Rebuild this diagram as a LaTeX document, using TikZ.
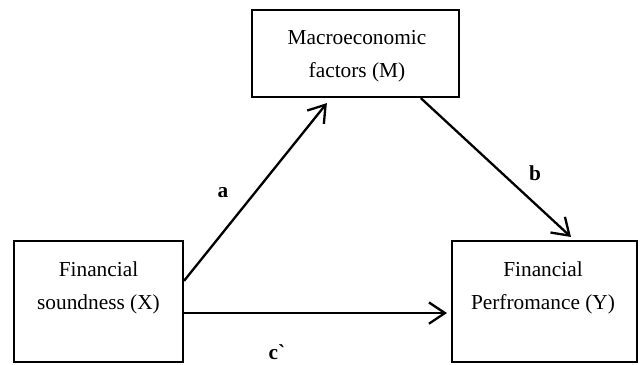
\documentclass[tikz,border=0pt]{standalone}
\usepackage{fontspec}
\setmainfont{Liberation Serif}[Ligatures=TeXOff]
\usetikzlibrary{arrows.meta, positioning}
\tikzstyle{var_box} = [rectangle, draw=black, line width=1.2pt, minimum height=68pt, inner sep=0pt]
\tikzstyle{var_text} = [align=center, inner sep=0pt, font=\fontsize{12}{18.6}\selectfont]
\tikzstyle{path_arrow} = [line width=1.3pt, -{Straight Barb[length=9pt, width=12pt]}]
\tikzstyle{path_label} = [font=\fontsize{12}{14}\selectfont\bfseries, inner sep=0pt]

\begin{document}
\begin{tikzpicture}[x=0.5625pt, y=-0.5625pt]
\useasboundingbox (0,0) rectangle (641,364);
\node (xbox) [var_box, minimum width=95pt] at (98.5,301.5) {};
\node (ybox) [var_box, minimum width=104pt] at (544.5,301.5) {};
\node (mbox) [var_box, minimum width=116.5pt, minimum height=49pt] at (355.5,53.5) {};

% Beschriftung der Variablen, etwas oberhalb der Mitte
\node (xtext) [var_text] at (98.5,288) {Financial\\soundness (X)};
\node (ytext) [var_text] at (543,288) {Financial\\Perfromance (Y)};
\node (mtext) [var_text] at (357,56) {Macroeconomic\\factors (M)};

% Pfade a, b und c`
\draw [path_arrow] ([yshift=-23pt]xbox.north east) -- ([xshift=42.75pt, yshift=-2.8pt]mbox.south west);
\draw [path_arrow] ([xshift=95.6pt]mbox.south west) -- ([xshift=67.5pt, yshift=1.7pt]ybox.north west);
\draw [path_arrow] ([yshift=-6.5pt]xbox.east) -- ([xshift=-2.25pt, yshift=-6.5pt]ybox.west);

\node (alabel) [path_label] at (223,193) {a};
\node (blabel) [path_label] at (535,173) {b};
\node (clabel) [path_label] at (277,352) {c`};
\end{tikzpicture}
\end{document}
